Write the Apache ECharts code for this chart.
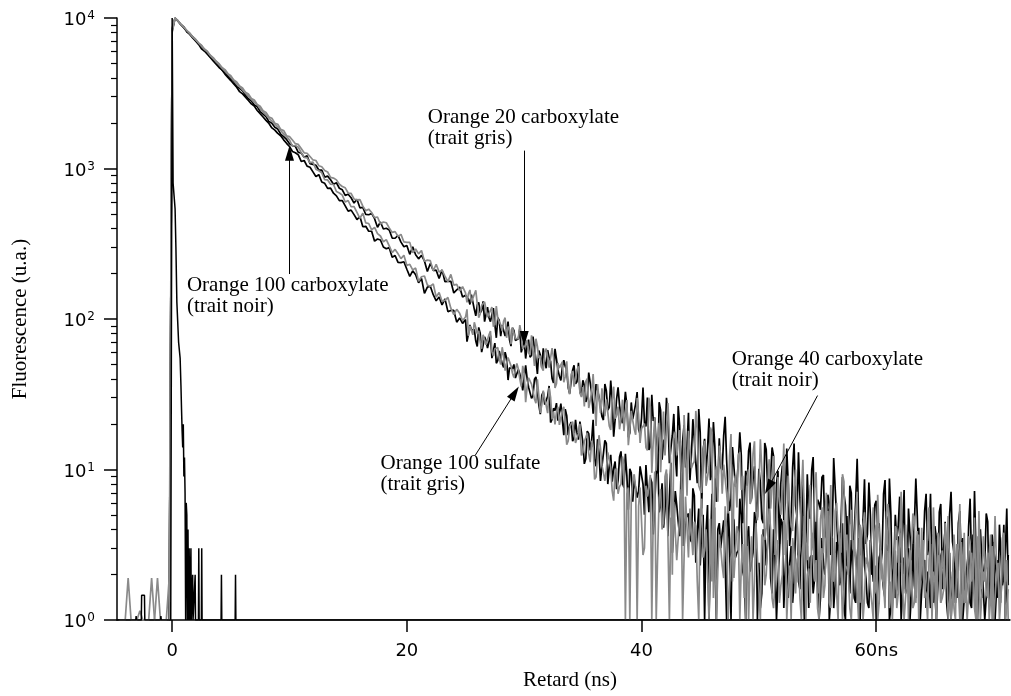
<!DOCTYPE html>
<html><head><meta charset="utf-8">
<script src="https://cdn.jsdelivr.net/npm/echarts@6/dist/echarts.min.js"></script>
<style>html,body{margin:0;padding:0;background:#fff}#c{width:1011px;height:696px}</style>
</head><body><div id="c"></div>
<script>
// Channel grid of the decay curves (ns): main channels from timeStart,
// extra in-between channels from midStart (noisy tail)
const timeStart = -4.5;
const timeStep = 0.25;
const midStart = 25.125;

// Orange 20 carboxylate (grey trace)
const o20Carboxylate = [1,1,1,1.9,1,1,1,1,1,1,1,1.9,1,1,1,1,1,1,
8600,10000,9600,9050,8720,8250,7960,7510,7230,6840,6590,6220,6010,5660,5460,5160,4970,4690,4540,4270,4130,3880,3760,3530,3430,3210,3130,2920,2850,2660,2590,2420,2360,2200,2160,2000,1970,1820,1790,1650,1630,
1547,1462,1446,1356,1271,1263,1201,1140,1130,1044,1026,971,948,874,864,840,786,759,744,687,
683,627,618,621,562,525,537,510,472,476,428,441,436,403,376,381,354,365,325,323,
323,276,292,271,285,242,246,244,209,231,205,211,193,177,198,168,170,154,164,149,
147,129,146,126,108,125,115,105,120,94,101,92,97,75,85,88,74,74,80,63,
72,57.5,62,74,55,47.6,60,55.8,46.3,55.5,37.1,47.3,51.9,41.4,35.7,42.7,35.5,45.9,32.3,35.3,
38.5,25.6,33.1,28.6,36.9,23.8,27.4,29.2,19.5,29.0,21.8,26.2,21.7,18.0,28.9,18.5,21.2,17.0,23.2,18.7,
20.2,13.4,26.2,15.7,9.8,20.4,16.1,12.4,27.6,10.2,16.2,12.4,18.3,3.1,13.6,18.1,10.2,11.3,18.5,7.3,13.4,7.8,10.4,17.6,8.6,6.1,12.4,10.8,7.0,12.3,1.8,9.1,12.5,7.3,5.1,9.0,5.9,12.7,5.2,7.3,
10.1,3.4,7.7,5.5,12.3,3.8,6.2,7.9,2.7,9.1,4.3,7.6,4.7,2.9,11.6,3.4,5.3,2.9,7.5,4.2,4.7,2.8,7.0,3.6,1.9,5.3,3.9,2.8,8.3,2.2,4.2,3.0,5.1,1.5,3.5,5.2,2.5,2.9,5.6,1.7,3.8,1.9,2.8,5.9,2.3,1.5,4.0,3.4,2.0,4.3,1,3.1,4.8,2.4,1.6,3.4,1.9,5.6,1.7,2.7,3.8,1.3,2.9,2.1,4.8,1.5,2.5,3.2,1,3.8,1.8,3.3,2.0,1.3,5.3,1.6,2.5,1.4,3.7,2.1,2.4,1.4,3.5,1.8,1];
const o20CarboxylateMid = [129,156,129,155,102,123,130,103,114,89,122,95,83,102,89,68,87,74,91,63,
69,59.7,78,48.8,66,57,45.4,63.6,47.5,64,34.8,51,46.9,38,52.3,31.6,45,36.4,48.5,30.3,
26.2,40.2,28.7,43.1,19.5,29.8,34.6,22.6,28.7,18.3,35.5,22.8,18.5,29.1,23.6,14.5,24.5,18.6,29.9,15.0,
19.3,14.0,30.0,9.5,22.2,16.2,9.6,24.3,12.2,28.3,2.0,17.8,15.3,9.5,23.0,6.7,17.7,10.9,24.5,7.8,7.0,15.5,8.9,19.0,1.4,10.5,14.4,6.9,11.1,5.1,17.2,8.0,5.6,13.0,9.1,1,10.0,6.3,15.4,4.6,
15.9,6.3,4.1,11.7,7.6,2.7,8.9,5.0,14.9,3.4,5.7,3.9,10.0,2.5,7.0,4.8,2.5,7.9,3.4,9.6,1.5,5.6,4.7,2.6,7.9,1.8,6.0,3.4,9.3,2.3,2.0,5.4,2.8,7.1,1.3,3.5,5.2,2.1,3.9,1.5,6.8,2.7,1.8,5.2,3.4,1.2,4.2,2.4,7.1,1.6,2.8,2.0,5.1,1.3,3.7,2.6,1.4,4.5,2.0,5.6,1,3.3,2.9,1.6,4.9,1,3.7,2.1,5.9,1.5,1.3,3.6,1.8,4.8,1,2.4,3.6,1.5,2.7,1,4.9,2.0,1.3,3.7,2.5];

// Orange 40 carboxylate (black trace)
const o40Carboxylate = [1,1,1,1,1,1,1,1,1,1,1,1,1,1,1,1,1,1,
8400,10000,9560,9030,8710,8080,7850,7530,7060,6750,6530,6050,5870,5510,5290,5120,4780,4510,4380,4160,3910,3790,3500,3410,3280,3070,2910,2820,2640,2580,2390,2300,2210,2050,2000,1880,1830,1690,1630,1560,1460,
1420,1401,1280,1269,1189,1215,1077,1065,1051,977,975,876,890,842,787,804,739,722,663,674,
639,589,625,548,551,495,493,503,464,407,441,396,401,390,345,344,359,324,302,308,
269,302,267,251,265,243,207,234,210,211,186,212,177,178,178,149,156,163,140,144,
136,145,116,124,110,131,96,102,107,92,102,77,91.5,83.7,72.8,87.3,72.1,73.9,60.0,71.5,
65.9,55.7,76.4,53.8,61.7,47.3,52.1,62.1,52.4,37.6,54.3,41.7,47.8,48.4,35.1,38.5,49.3,38.3,32.8,39.2,
28.1,44.0,32.3,29.1,38.0,31.2,21.3,33.4,25.9,28.6,21.5,35.2,22.1,24.6,26.7,17.5,21.6,27.3,18.5,22.0,
20.4,30.1,14.2,21.0,14.5,28,11.6,16.0,22.1,13.8,23.4,9.0,19.4,15.4,10.3,23.8,12.5,15.6,8.1,17.6,13.5,9.4,21.8,9.6,14.1,7.7,10.3,16.8,11.6,5.3,14.1,7.7,11.4,12.4,5.8,7.8,15.1,8.6,6.2,10.1,
4.7,15.0,7.4,6.0,12.3,8.0,3.2,10.6,6.0,8.1,4.2,14.9,4.8,6.5,8.4,3.0,5.3,9.9,3.9,6.3,5.4,9.2,3.5,6.0,3.7,12.0,2.9,4.5,6.9,3.7,7.8,2.2,6.2,4.7,2.8,8.6,3.7,5.0,2.2,6.2,4.4,2.8,8.5,2.9,5.0,2.2,3.4,6.6,4.1,1.5,5.5,2.5,4.3,4.9,1.8,2.8,6.9,3.3,2.1,4.2,1.8,5.9,3.0,2.4,5.0,3.3,1.3,4.4,2.5,3.4,1.8,6.4,2.1,2.9,3.7,1.4,2.4,4.5,1.8,2.9,2.6,4.3,1.7,2.8,1.7];
const o40CarboxylateMid = [140,125,149,105,129,114,96,120,96,118,75,98,91,77,96,66,84,71,86,61,
54.6,72.9,57.5,75.7,43.1,57.7,63.8,47.1,55.4,40.2,63.3,45.9,39.1,53.2,45.5,31.9,45.6,37.1,51.2,31.1,
36.3,30.0,45.1,23.5,36.9,30.5,22.5,37.0,24.8,39.0,16.5,29.4,26.8,20.3,32.8,16.4,27.9,21.1,32.7,17.2,
35,19.3,13.5,31.4,22.1,9.4,24.8,15.4,30,11.0,16.9,12.3,26.4,8.4,19.7,14.3,8.5,21.6,10.9,25.2,5.5,16.0,13.8,8.5,20.7,6.1,16.1,9.9,22.4,7.2,6.4,14.4,8.2,17.7,4.4,9.8,13.3,6.4,10.5,4.8,
8.2,4.4,13.6,5.9,14,2.7,9.8,8.2,4.6,13.8,3.1,10.3,5.8,13,3.9,3.5,9.3,4.7,12.1,2.2,6.0,8.9,3.7,6.8,2.7,11.9,4.8,3.1,8.9,5.8,2.1,7.0,3.9,11.8,2.7,4.6,3.2,8.2,2.0,5.8,4.1,2.2,6.9,3.0,8.7,1.4,5.0,4.2,2.4,7.3,1.7,5.5,3.1,8.7,2.1,1.9,5.3,2.7,6.9,1.3,3.5,5.2,2.2,4.0,1.6,7.1,2.8,1.9,5.3,3.5,1.3,4.2,2.4,7.2,1.6,2.8,2.0,5.1,1.3,3.7,2.6,1.4,4.4,1.9,5.5];

// Orange 100 sulfate (grey trace)
const o100Sulfate = [1,1,1,1,1,1,1,1.15,1,1,1,1,1,1.9,1,1,1,1.9,
8000,10000,9530,9080,8660,8260,7870,7500,7150,6820,6500,6190,5950,5630,5370,5120,4880,4650,4440,4230,4030,3840,3630,3490,3330,3170,3030,2880,2750,2650,2500,2380,2270,2160,2060,1970,1890,1790,1700,1630,1550,
1410,1421,1384,1274,1186,1177,1093,1105,990,965,936,842,840,787,783,703,688,666,599,612,
557,558,511,467,505,435,431,391,406,369,356,326,337,306,276,290,271,252,265,227,
231,212,218,178,191,193,168,165,171,140,150,131,133,139,118,107,116,109,97.7,103,
77.2,91.3,95.1,80.0,70.3,78.5,67.4,78.6,60.6,63.5,64.5,49.9,56.7,50.8,56.8,43.6,46.2,46.5,35.6,43.5,
35.3,40.2,33.3,27.6,40.3,26.9,29.4,23.7,30.1,24.3,24.2,19.8,24.8,19.5,15.5,20.1,17.5,15.1,20.1,13.0,
15.4,12.8,15.5,8.6,12.2,13.9,9.6,9.9,12.8,7.2,9.8,6.9,8.0,10.9,6.9,1,8.3,7.5,5.7,7.7,
3.0,6.6,9.2,5.1,1,6.5,4.0,9.0,3.5,4.8,6.1,2.5,4.8,1,6.6,2.6,3.7,4.5,1.8,4.8,2.6,4.0,1,1.8,5.6,2.1,3.0,1.9,4.1,1,2.8,1.9,3.8,2.3,1.4,3.1,2.4,1,4.4,1.6,
3.7,1.7,2.0,4.0,1.2,2.7,1.3,2.0,4.2,1.7,1,2.8,2.5,1.4,3.1,1,2.2,3.5,1.8,1.2,2.5,1.4,4.2,1.3,2.1,2.8,1,2.2,1.6,3.7,1.2,1.9,2.5,1,3.0,1.4,2.6,1.6,1,4.3,1.3,2.0,1.2,3.1,1.8,2.0,1.2,3.0,1.6,1,2.4,1.8,1.3,3.9,1,2.0,1.5,2.5,1,1.8,2.7,1.3,1.6,3.1,1,2.1,1,1.6,3.3,1.3,1,2.3,2.0,1,2.5,1,1.8,2.8,1.4,1,2.0,1,3.3,1,1.6];
const o100SulfateMid = [116,90,78.5,95.6,83.4,63.4,79.9,67.3,83,56.8,61.7,54.5,64.9,45.4,55.4,48.9,40.8,50.7,40.2,48.8,
28.0,40.7,36.9,29.4,39.8,23.8,33.4,26.6,34.9,21.5,19.9,26.1,20.2,26.1,14.6,19.2,20.8,15.0,17.3,12.4,
15.3,17.5,11.2,14.1,8.9,16.9,10.6,8.4,13.0,10.3,6.2,10.2,7.7,12.2,1,7.6,6.3,9.3,1,7.6,
2.7,7.8,6.6,1,9.7,2.8,7.4,4.5,10.0,1,2.8,6.2,3.5,7.4,1,4.1,5.5,2.7,4.2,1,6.4,2.9,2.0,4.7,3.3,1,3.7,2.3,5.7,1,2.6,1.9,4.2,1,3.2,2.35,1,3.6,1.8,4.3,
1,3.5,2.0,5.5,1.4,1.2,3.4,1.7,4.6,1,2.3,3.5,1.5,2.7,1,4.9,2.0,1.3,3.8,2.5,1,3.0,1.7,5.3,1.2,2.1,1.5,3.8,1,2.8,2.0,1,3.4,1.5,4.3,1,2.6,2.2,1.3,3.8,1,2.9,1.7,4.7,1.2,1,2.9,1.5,3.8,1,2.0,2.9,1.2,2.3,1,4.1,1.6,1,3.2,2.1,1,2.5,1.4,4.4,1,1.7,1.2,3.2,1,2.3,1.6,1,2.8,1.2,3.6,1,2.1,1.8,1,3.1,1,2.4,1.4,3.8,1];

// Orange 100 carboxylate (black trace)
const o100Carboxylate = [1,1,1,1,1,1,1,1,1,1,1,1,1,1,1,1,1,1,
8200,10000,9510,9040,8590,8170,7770,7380,7030,6680,6250,6040,5740,5460,5190,4930,4690,4520,4240,4030,3840,3650,3470,3240,3130,2980,2830,2690,2600,2430,2310,2200,2090,1990,1860,1800,1710,1650,1550,1470,1400,
1297,1273,1231,1114,1130,1037,1020,950,885,910,814,797,737,741,685,658,612,612,565,521,
529,494,458,480,410,413,383,383,329,340,335,301,293,298,257,264,238,237,240,214,
192,209,197,174,186,148,163,165,145,132,140,124,136,112,114,114,95.3,101.7,93.4,99.2,
79.3,84.4,85.0,65.6,80.6,66.9,71.9,63.1,55.0,69.1,52.9,55.6,47.6,54.8,47.4,46.7,40.5,46.2,39.2,33.0,
40.3,35.6,30.9,41.2,26.8,31.1,27.0,30.6,20.5,25.5,27.6,21.2,21.4,25.2,16.9,20.7,16.2,17.5,20.8,15.2,
11.8,17.3,15.6,11.7,15.9,8.4,12.7,14.9,10.5,8.3,11.3,8.4,13.2,7.6,9.1,10.1,6.1,8.6,7.2,10.2,
5.0,7.3,8.8,3.7,9.6,5.2,8.1,5.4,3.6,11.1,4.1,5.8,3.6,7.5,4.7,5.1,3.3,6.7,3.9,2.3,5.0,3.9,1,6.9,2.4,4.0,3.0,4.6,1,3.5,4.8,2.6,2.9,5.0,1.9,3.6,2.1,2.8,5.0,2.4,
1.5,3.8,3.3,1.9,4.0,1,2.8,4.4,2.2,1.4,3.1,1.8,5.1,1.6,2.5,3.4,1.2,2.7,1.9,4.4,1.4,2.3,3.0,1,3.5,1.7,3.0,1.9,1.2,4.9,1.5,2.3,1.3,3.5,2.0,2.3,1.3,3.4,1.8,1,2.6,2.0,1.4,4.3,1.2,2.2,1.6,2.8,1,2.0,3.0,1.5,1.7,3.5,1,2.4,1.2,1.8,3.7,1.5,1,2.6,2.2,1.3,2.8,1,2.0,3.2,1.6,1,2.3,1.3,3.7,1.2,1.9,2.6,1,2.0,1.5,3.3,1,1.7,2.3,1,2.7];
const o100CarboxylateMid = [70.7,91.4,84.7,71.4,88.0,60.3,76.1,64.2,77.5,54.4,50.8,61.3,50.5,60.2,39.3,47.5,49.9,39.3,43.2,33.6,
49.2,35.2,29.7,39.8,33.5,23.3,32.8,26.3,35.9,21.5,24.6,21.1,27.4,16.9,22.8,19.5,15.4,21.4,15.8,21.2,
10.9,18.0,13.4,21.4,10.5,12.9,10.5,15.6,8.0,12.5,10.2,7.4,12.1,8.1,12.7,5.4,9.5,8.6,6.5,10.5,
8.0,10.7,5.2,8.2,3.8,12.7,5.8,4.1,9.4,6.6,2.8,7.2,4.5,10.8,3.1,4.8,3.5,7.5,2.4,5.5,3.95,1,5.8,2.9,6.8,1,4.4,3.8,2.4,5.8,1,4.6,2.8,6.4,2.1,1,4.2,2.4,5.2,1,
1.2,4.0,2.3,6.8,1.5,2.6,1.8,4.7,1.2,3.4,2.4,1.3,4.1,1.8,5.2,1,3.1,2.6,1.5,4.5,1,3.5,2.0,5.5,1.4,1.2,3.3,1.7,4.4,1,2.3,3.4,1.4,2.6,1,4.7,1.9,1.2,3.5,2.3,1,2.8,1.6,4.9,1,2.0,1.4,3.6,1,2.6,1.8,1,3.2,1.4,4.1,1,2.5,2.1,1.2,3.6,1,2.8,1.6,4.5,1,1,2.8,1.4,3.7,1,1.9,2.9,1.2,2.2,1,4.0,1.6,1,3.1,2.1,1,2.5,1.4,4.3,1];

// Instrument response (black, sharp pulse at t = 0)
const irfTime = [-4.7,-3.1,-3.07,-3.04,-2.63,-2.6,-2.36,-2.33,-0.99,-0.96,-0.93,-0.12,0,0.08,0.25,0.32,0.4,0.55,0.68,0.75,0.8,0.85,0.9,0.95,1.0,1.05,1.1,1.15,1.2,1.25,1.3,1.35,1.4,1.45,1.5,1.57,1.6,1.63,1.72,1.75,1.78,1.93,1.96,1.99,2.24,2.27,2.3,2.49,2.52,2.55,4.17,4.2,4.23,5.37,5.4,5.43,71.4];
const irfValue = [1,1,1.06,1,1,1.46,1.46,1,1,1.06,1,1,10000,800,540,300,130,70,55,36,25,18,14,20,9,12,7,1,6,5,1,4,1,3,1,1,3,1,1,2,1,1,2,1,1,3,1,1,3,1,1,2,1,1,2,1,1];

// Axes
const xTicks = [0, 20, 40, 60];
const xTickLabels = ['0', '20', '40', '60ns'];
const yTicks = [1, 10, 100, 1000, 10000];
const yTickExponents = ['0', '1', '2', '3', '4'];
const yMinorTicks = [2,3,4,5,6,7,8,9,20,30,40,50,60,70,80,90,200,300,400,500,600,700,800,900,2000,3000,4000,5000,6000,7000,8000,9000];

// Annotations (data coordinates)
const noteTexts = ['Orange 100 carboxylate\n(trait noir)', 'Orange 20 carboxylate\n(trait gris)', 'Orange 100 sulfate\n(trait gris)', 'Orange 40 carboxylate\n(trait noir)'];
const noteAnchors = [[1.30, 196], [21.83, 2535], [17.8, 12.7], [47.73, 62.6]];
const arrowFrom = [[10.0, 199], [30.0, 1315], [25.82, 12.4], [55.0, 31.0]];
const arrowTo = [[10.0, 1265], [30.0, 74.1], [29.2, 32.3], [50.82, 7.62]];

const BLACK = '#000000', GREY = '#8a8a8a';
function channels(main, mid) {
  const pts = main.map((v, i) => [timeStart + i * timeStep, v]);
  mid.forEach((v, j) => pts.push([midStart + j * timeStep, v]));
  return pts.sort((a, b) => a[0] - b[0]);
}

const chart = echarts.init(document.getElementById('c'), null, {renderer: 'canvas'});
const lineSeries = (name, data, color, z, width) => ({
  name, type: 'line', data, showSymbol: false, symbol: 'none', z,
  lineStyle: {color, width}, itemStyle: {color}, animation: false, silent: true
});

chart.setOption({
  backgroundColor: '#ffffff',
  animation: false,
  grid: {left: 117, right: 1, top: 18, bottom: 74, containLabel: false},
  xAxis: {
    type: 'value', min: -4.7, max: 71.4,
    axisLine: {onZero: false, lineStyle: {color: BLACK, width: 1.5}},
    axisTick: {customValues: xTicks, length: 12, lineStyle: {color: BLACK, width: 1.5}},
    axisLabel: {customValues: xTicks, margin: 22, color: BLACK, fontFamily: 'DejaVu Sans', fontSize: 18,
      formatter: v => xTickLabels[xTicks.indexOf(Math.round(v))]},
    splitLine: {show: false},
    name: 'Retard (ns)', nameLocation: 'middle', nameGap: 50,
    nameTextStyle: {fontFamily: 'Liberation Serif', fontSize: 21, color: BLACK, padding: [0, 0, 0, 13]}
  },
  yAxis: [{
    type: 'log', logBase: 10, min: 1, max: 10000, position: 'left',
    axisLine: {onZero: false, lineStyle: {color: BLACK, width: 1.5}},
    axisTick: {customValues: yTicks, length: 13, lineStyle: {color: BLACK, width: 1.5}},
    axisLabel: {
      customValues: yTicks, margin: 22,
      formatter: v => {
        const k = yTicks.findIndex(t => Math.abs(Math.log10(t) - Math.log10(v)) < 0.01);
        return '{b|10}{s|' + yTickExponents[k] + '}';
      },
      rich: {
        b: {fontFamily: 'DejaVu Sans', fontSize: 18, lineHeight: 18, padding: [5, 0, 0, 0], color: BLACK},
        s: {fontFamily: 'DejaVu Sans', fontSize: 12, lineHeight: 12, padding: [1, 0, 0, 1], verticalAlign: 'top', color: BLACK}
      }
    },
    splitLine: {show: false},
    name: 'Fluorescence (u.a.)', nameLocation: 'middle', nameGap: 86, nameRotate: 90,
    nameTextStyle: {fontFamily: 'Liberation Serif', fontSize: 21, color: BLACK}
  }, {
    type: 'log', logBase: 10, min: 1, max: 10000, position: 'left',
    axisLine: {show: false, onZero: false},
    axisTick: {customValues: yMinorTicks, length: 6, lineStyle: {color: BLACK, width: 1.2}},
    axisLabel: {show: false},
    splitLine: {show: false}
  }],
  series: [
    lineSeries('Orange 100 carboxylate', channels(o100Carboxylate, o100CarboxylateMid), BLACK, 2, 1.7),
    lineSeries('Orange 40 carboxylate', channels(o40Carboxylate, o40CarboxylateMid), BLACK, 2, 1.7),
    lineSeries('Orange 20 carboxylate', channels(o20Carboxylate, o20CarboxylateMid), GREY, 3, 1.7),
    lineSeries('Orange 100 sulfate', channels(o100Sulfate, o100SulfateMid), GREY, 3, 1.7),
    Object.assign(lineSeries('IRF', irfTime.map((t, i) => [t, irfValue[i]]), BLACK, 4, 1.5), {
      markLine: {
        silent: true, animation: false,
        symbol: ['none', 'triangle'], symbolSize: [9, 15],
        lineStyle: {color: BLACK, width: 1, type: 'solid'},
        label: {show: false},
        data: arrowFrom.map((f, i) => [{coord: f}, {coord: arrowTo[i]}])
      },
      markPoint: {
        silent: true, animation: false,
        symbol: 'rect', symbolSize: 1, itemStyle: {color: 'rgba(0,0,0,0)'},
        label: {show: true, position: [0, 0], align: 'left', verticalAlign: 'top',
          formatter: '{b}', fontFamily: 'Liberation Serif', fontSize: 21, lineHeight: 21, color: BLACK},
        data: noteAnchors.map((c, i) => ({name: noteTexts[i], coord: c}))
      }
    })
  ]
});
</script>
</body></html>
